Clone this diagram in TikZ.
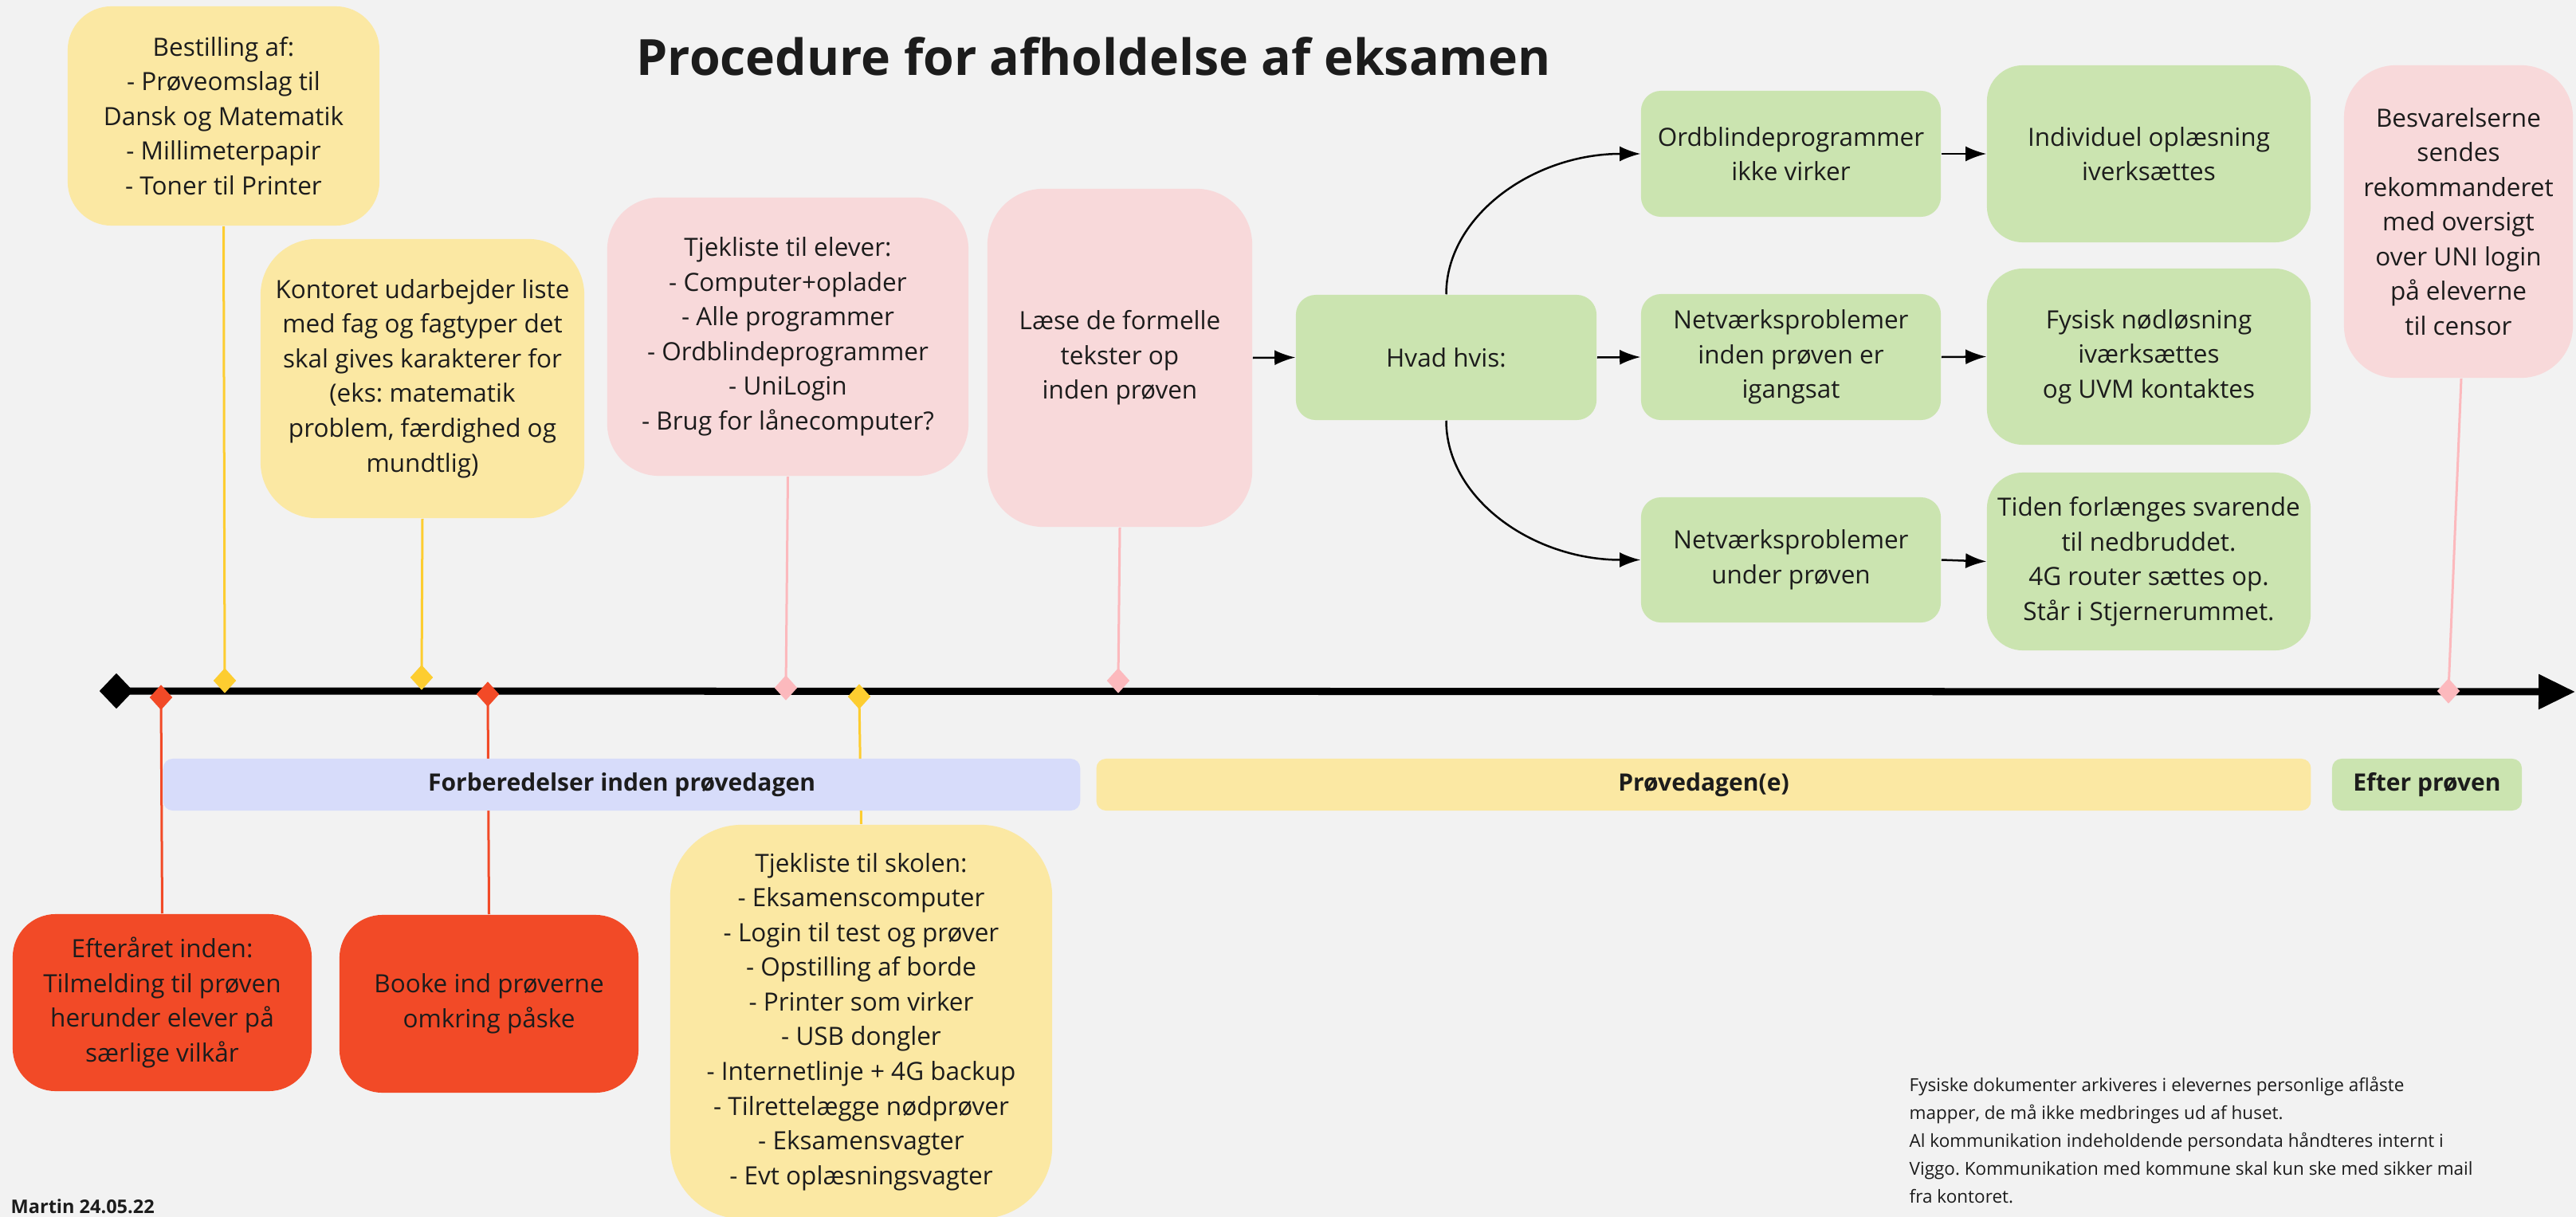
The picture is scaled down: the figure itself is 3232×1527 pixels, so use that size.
\documentclass[tikz,border=0pt]{standalone}
\usepackage{fontspec}
\setmainfont{Open Sans}
\usetikzlibrary{shapes.geometric,arrows.meta}
\frenchspacing

\definecolor{paper}{HTML}{F2F2F2}
\definecolor{ink}{HTML}{1C1C1C}
\definecolor{yel}{HTML}{FBE8A3}
\definecolor{rosa}{HTML}{F8D9DA}
\definecolor{grn}{HTML}{CBE4B0}
\definecolor{rd}{HTML}{F24A27}
\definecolor{lav}{HTML}{D7DCFA}
\definecolor{yelline}{HTML}{FDCD30}
\definecolor{rosaline}{HTML}{FCB9BD}

\newcommand\bodyfont{\fontsize{8.96}{12.38}\selectfont}
\newcommand\titlefont{\fontsize{17.8}{21}\selectfont\bfseries}
\newcommand\bandfont{\fontsize{8.54}{10}\selectfont\bfseries}
\newcommand\notefont{\fontsize{6.4}{9.96}\selectfont}
\newcommand\signfont{\fontsize{6.69}{8}\selectfont\bfseries}

\pgfdeclarelayer{paperlayer}
\pgfdeclarelayer{links}
\pgfsetlayers{paperlayer,links,main}

\begin{document}
\begin{tikzpicture}[x=0.01cm,y=0.01cm,
  card/.style={fill=#1, inner sep=0pt, align=center, text=ink, font=\bodyfont},
  band/.style={fill=#1, inner sep=0pt, rounded corners=0.12cm, minimum height=0.65cm, text=ink, font=\bandfont},
  mark/.style={diamond, fill=#1, inner sep=0pt, minimum width=0.29cm, minimum height=0.32cm},
  stem/.style={draw=#1, line width=0.03cm},
  arr/.style={draw=black, line width=0.025cm, -{Latex[length=0.26cm,width=0.19cm]}}]

\begin{pgfonlayer}{paperlayer}
  \fill[paper] (0,0) rectangle (3232,-1527);
\end{pgfonlayer}
\useasboundingbox (0,0) rectangle (3232,-1527);

% title
\node[anchor=base, font=\titlefont, text=ink] (title) at (1372,-94) {Procedure for afholdelse af eksamen};

% upper cards
\node[card=yel, minimum width=3.91cm, minimum height=2.75cm, rounded corners=0.55cm] (bestil) at (280.5,-145.5)
  {Bestilling af:\\- Prøveomslag til\\Dansk og Matematik\\- Millimeterpapir\\- Toner til Printer};
\node[card=yel, minimum width=4.06cm, minimum height=3.50cm, rounded corners=0.7cm] (kontor) at (530,-475)
  {Kontoret udarbejder liste\\med fag og fagtyper det\\skal gives karakterer for\\(eks: matematik\\problem, færdighed og\\mundtlig)};
\node[card=rosa, minimum width=4.53cm, minimum height=3.49cm, rounded corners=0.65cm] (elever) at (988.5,-422.5)
  {Tjekliste til elever:\\- Computer+oplader\\- Alle programmer\\- Ordblindeprogrammer\\- UniLogin\\- Brug for lånecomputer?};
\node[card=rosa, minimum width=3.32cm, minimum height=4.24cm, rounded corners=0.7cm] (laese) at (1405,-449)
  {Læse de formelle\\tekster op\\inden prøven};

% what-if branch
\node[card=grn, minimum width=3.77cm, minimum height=1.57cm, rounded corners=0.25cm] (hvad) at (1814.5,-448.5) {Hvad hvis:};
\node[card=grn, minimum width=3.76cm, minimum height=1.58cm, rounded corners=0.25cm] (ordbl) at (2247,-193) {Ordblindeprogrammer\\ikke virker};
\node[card=grn, minimum width=3.76cm, minimum height=1.58cm, rounded corners=0.25cm] (netv1) at (2247,-448) {Netværksproblemer\\inden prøven er\\igangsat};
\node[card=grn, minimum width=3.76cm, minimum height=1.57cm, rounded corners=0.25cm] (netv2) at (2247,-702.5) {Netværksproblemer\\under prøven};
\node[card=grn, minimum width=4.06cm, minimum height=2.22cm, rounded corners=0.45cm] (indiv) at (2696,-193) {Individuel oplæsning\\iverksættes};
\node[card=grn, minimum width=4.06cm, minimum height=2.21cm, rounded corners=0.45cm] (fysisk) at (2696,-447.5) {Fysisk nødløsning\\iværksættes\\og UVM kontaktes};
\node[card=grn, minimum width=4.06cm, minimum height=2.23cm, rounded corners=0.45cm] (tiden) at (2696,-704.5) {Tiden forlænges svarende\\til nedbruddet.\\4G router sættes op.\\Står i Stjernerummet.};
\node[card=rosa, minimum width=2.87cm, minimum height=3.92cm, rounded corners=0.65cm] (besvar) at (3084.5,-278)
  {Besvarelserne\\sendes\\rekommanderet\\med oversigt\\over UNI login\\på eleverne\\til censor};

% lower cards
\node[card=rd, minimum width=3.75cm, minimum height=2.22cm, rounded corners=0.54cm] (eft) at (203.5,-1258)
  {Efteråret inden:\\Tilmelding til prøven\\herunder elever på\\særlige vilkår};
\node[card=rd, minimum width=3.75cm, minimum height=2.23cm, rounded corners=0.54cm] (booke) at (613.5,-1259.5)
  {Booke ind prøverne\\omkring påske};
\node[card=yel, minimum width=4.79cm, minimum height=4.94cm, rounded corners=0.9cm] (skole) at (1080.5,-1282)
  {Tjekliste til skolen:\\- Eksamenscomputer\\- Login til test og prøver\\- Opstilling af borde\\- Printer som virker\\- USB dongler\\- Internetlinje + 4G backup\\- Tilrettelægge nødprøver\\- Eksamensvagter\\- Evt oplæsningsvagter};

% phase bands
\node[band=lav, minimum width=11.50cm] (forb) at (780,-984.5) {Forberedelser inden prøvedagen};
\node[band=yel, minimum width=15.23cm] (dag) at (2137.5,-984.5) {Prøvedagen(e)};
\node[band=grn, minimum width=2.38cm] (efter) at (3045,-984.5) {Efter prøven};

% timeline
\node[diamond, fill=black, inner sep=0pt, minimum width=0.43cm, minimum height=0.45cm] (start) at (146,-867) {};
\coordinate (tlend) at (3231,-868);
\begin{pgfonlayer}{links}
  \draw[line width=0.09cm, -{Triangle[length=0.46cm,width=0.42cm]}] (start.center) -- (tlend);
\end{pgfonlayer}

% markers on the timeline
\node[mark=yelline] (y1) at (282,-854) {};
\node[mark=yelline] (y2) at (529,-850) {};
\node[mark=rd] (r1) at (202,-875) {};
\node[mark=rd] (r2) at (612,-871) {};
\node[mark=rosaline] (p1) at (986,-863) {};
\node[mark=yelline] (y3) at (1078,-874) {};
\node[mark=rosaline] (p2) at (1403,-854) {};
\node[mark=rosaline] (p3) at (3072,-867) {};

\begin{pgfonlayer}{links}
  \draw[stem=yelline] (bestil.south) -- (y1.center);
  \draw[stem=yelline] (kontor.south) -- (y2.center);
  \draw[stem=rosaline] (elever.south) -- (p1.center);
  \draw[stem=rosaline] (laese.south) -- (p2.center);
  \draw[stem=rosaline] ([xshift=0.035cm]besvar.south) -- (p3.center);
  \draw[stem=rd] (eft.north) -- (r1.center);
  \draw[stem=rd] (booke.north) -- (r2.center);
  \draw[stem=yelline] (skole.north) -- (y3.center);
\end{pgfonlayer}

% flow arrows
\draw[arr] (laese.east) -- (hvad.west);
\draw[arr] (hvad.east) -- (netv1.west);
\draw[arr] (hvad.north) .. controls +(0,98) and +(-135,0) .. (ordbl.west);
\draw[arr] (hvad.south) .. controls +(0,-98) and +(-135,0) .. (netv2.west);
\draw[arr] (ordbl.east) -- (indiv.west);
\draw[arr] (netv1.east) -- (fysisk.west);
\draw[arr] (netv2.east) -- (tiden.west);

% footer texts
\node[anchor=west, font=\signfont, text=ink, inner sep=0pt] (sign) at (13,-1514) {Martin 24.05.22};
\node[anchor=north west, align=left, font=\notefont, text=ink, inner sep=0pt] (note) at (2395,-1350)
  {Fysiske dokumenter arkiveres i elevernes personlige aflåste\\mapper, de må ikke medbringes ud af huset.\\Al kommunikation indeholdende persondata håndteres internt i\\Viggo. Kommunikation med kommune skal kun ske med sikker mail\\fra kontoret.};
\end{tikzpicture}
\end{document}
